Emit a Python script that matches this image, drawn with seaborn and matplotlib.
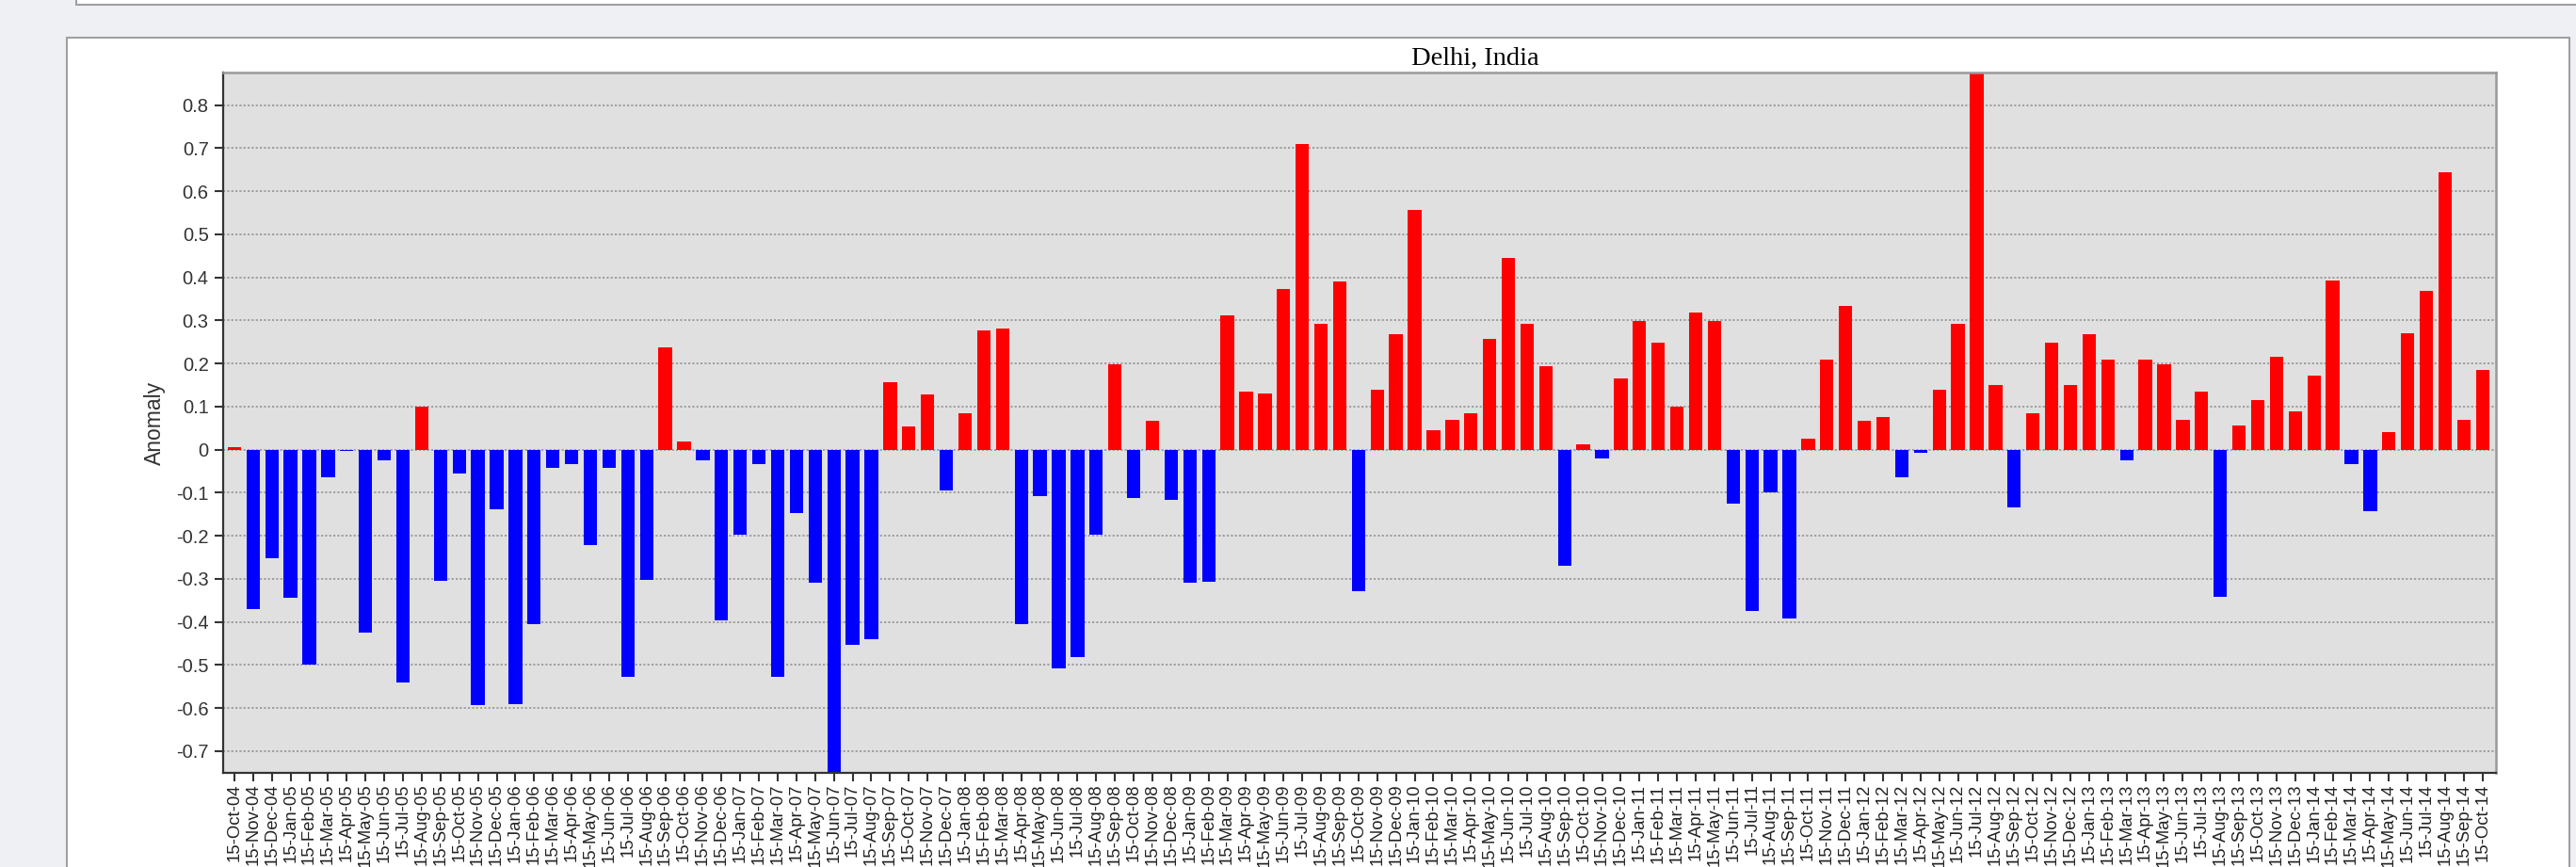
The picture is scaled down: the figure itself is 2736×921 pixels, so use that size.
import matplotlib
matplotlib.use('Agg')
import matplotlib.pyplot as plt
from matplotlib.patches import Rectangle
import seaborn as sns
import pandas as pd
import numpy as np

# monthly labels, 15-Oct-04 .. 15-Oct-14
months = [d.strftime('15-%b-%y') for d in pd.date_range('2004-10-01', '2014-10-01', freq='MS')]

anomaly = [
    0.005, -0.370, -0.252, -0.345, -0.499, -0.064, -0.004, -0.424, -0.026, -0.541,   # Oct04-Jul05
    0.100, -0.305, -0.055, -0.594, -0.139, -0.590, -0.405, -0.042, -0.033, -0.222,   # Aug05-May06
    -0.042, -0.527, -0.302, 0.237, 0.018, -0.026, -0.397, -0.197, -0.033, -0.527,    # Jun06-Mar07
    -0.148, -0.310, -0.780, -0.454, -0.441, 0.157, 0.053, 0.127, -0.095, 0.084,      # Apr07-Jan08
    0.276, 0.280, -0.406, -0.109, -0.508, -0.481, -0.197, 0.198, -0.113, 0.066,      # Feb08-Nov08
    -0.117, -0.310, -0.306, 0.311, 0.135, 0.131, 0.373, 0.710, 0.293, 0.390,         # Dec08-Sep09
    -0.328, 0.140, 0.267, 0.556, 0.044, 0.069, 0.084, 0.258, 0.446, 0.293,           # Oct09-Jul10
    0.193, -0.270, 0.013, -0.021, 0.166, 0.298, 0.249, 0.100, 0.319, 0.298,          # Aug10-May11
    -0.126, -0.375, -0.099, -0.393, 0.026, 0.210, 0.333, 0.066, 0.075, -0.064,       # Jun11-Mar12
    -0.008, 0.140, 0.293, 0.900, 0.149, -0.135, 0.084, 0.249, 0.149, 0.267,          # Apr12-Jan13
    0.210, -0.026, 0.210, 0.198, 0.069, 0.135, -0.341, 0.057, 0.115, 0.215,          # Feb13-Nov13
    0.088, 0.171, 0.393, -0.033, -0.144, 0.040, 0.271, 0.368, 0.643, 0.069,          # Dec13-Sep14
    0.184,                                                                           # Oct14
]

yticks = [-0.7, -0.6, -0.5, -0.4, -0.3, -0.2, -0.1, 0.0, 0.1, 0.2, 0.3, 0.4, 0.5, 0.6, 0.7, 0.8]

df = pd.DataFrame({'month': months, 'anomaly': anomaly})
df['sign'] = np.where(df['anomaly'] >= 0, 'pos', 'neg')

W, H = 2736, 921
fig = plt.figure(figsize=(W / 100, H / 100), dpi=100)
fig.patch.set_facecolor('#EEF0F4')

# white chart panel and the box above it
fig.add_artist(Rectangle((71 / W, -0.1), (2729 - 71) / W, 1.1 - 40 / H, transform=fig.transFigure,
                         facecolor='white', edgecolor='#A0A0A0', lw=1.5, zorder=-5))
fig.add_artist(Rectangle((81 / W, 1 - 5 / H), 1.0, 0.1, transform=fig.transFigure,
                         facecolor='white', edgecolor='#A0A0A0', lw=1.5, zorder=-5))

ax = fig.add_axes([237 / W, 1 - 820.7 / H, (2650.7 - 237) / W, (820.7 - 77.3) / H])
sns.barplot(data=df, x='month', y='anomaly', hue='sign',
            palette={'pos': '#FF0000', 'neg': '#0000FF'}, dodge=False, width=0.72,
            saturation=1, errorbar=None, legend=False, linewidth=0, ax=ax)

ax.set_facecolor('#E0E0E0')
ax.set_xlim(-0.6, 120.7)
ax.set_ylim(-0.75, 0.875)
ax.set_axisbelow(True)
ax.grid(axis='y', linestyle=(0, (1.2, 1.2)), color='#9A9A9A', lw=1.3)
ax.grid(axis='x', visible=False)

ax.set_yticks(yticks)
ax.set_yticklabels(['0' if abs(v) < 1e-9 else f'{v:g}' for v in yticks],
                   fontsize=14.5, color='#333333', family='Liberation Sans')
ax.set_xticks(range(len(months)))
ax.set_xticklabels(months, rotation=90, fontsize=13.3, color='#222222', family='Liberation Sans')
ax.tick_params(axis='y', length=6.5, width=1.5, color='#333333', pad=4.5)
ax.tick_params(axis='x', length=6.5, width=1.5, color='#333333', pad=2)

ax.set_xlabel('')
ax.set_ylabel('Anomaly', fontsize=16.5, color='#333333', family='Liberation Sans', labelpad=8)

for s in ['left', 'bottom']:
    ax.spines[s].set_color('#333333')
    ax.spines[s].set_linewidth(1.6)
for s in ['top', 'right']:
    ax.spines[s].set_color('#999999')
    ax.spines[s].set_linewidth(1.8)

fig.text(1567 / W, 1 - 69 / H, 'Delhi, India', ha='center', va='baseline',
         fontsize=20.5, family='Liberation Serif', color='black')

fig.savefig('out.png', dpi=100, facecolor=fig.get_facecolor())
